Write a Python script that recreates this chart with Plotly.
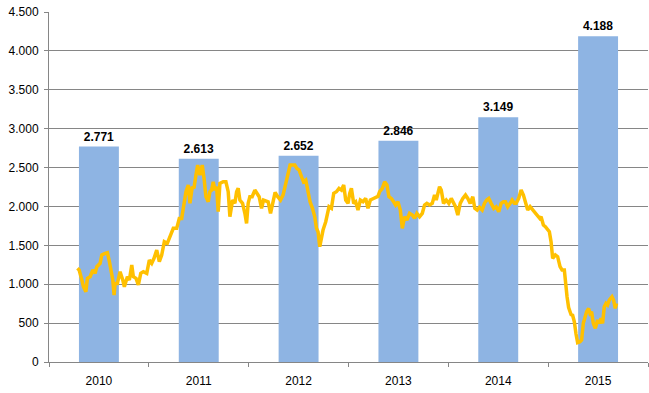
import plotly.graph_objects as go

# Bar data (yearly)
years = ["2010", "2011", "2012", "2013", "2014", "2015"]
bar_values = [2771, 2613, 2652, 2846, 3149, 4188]

# Line data (time in decimal years, value)
line_time = [
    2010.003, 2010.020, 2010.047, 2010.063, 2010.087, 2010.103, 2010.130, 2010.157, 2010.180, 2010.197,
    2010.230, 2010.247, 2010.280, 2010.303, 2010.323, 2010.337, 2010.357, 2010.370, 2010.380, 2010.403,
    2010.430, 2010.457, 2010.473, 2010.503, 2010.523, 2010.547, 2010.563, 2010.590, 2010.613, 2010.637,
    2010.663, 2010.697, 2010.723, 2010.747, 2010.770, 2010.797, 2010.823, 2010.847, 2010.873, 2010.903,
    2010.923, 2010.947, 2010.963, 2010.997, 2011.023, 2011.047, 2011.070, 2011.090, 2011.113, 2011.130,
    2011.153, 2011.170, 2011.190, 2011.207, 2011.230, 2011.253, 2011.273, 2011.290, 2011.313, 2011.330,
    2011.347, 2011.363, 2011.380, 2011.397, 2011.413, 2011.430, 2011.463, 2011.490, 2011.513, 2011.530,
    2011.557, 2011.580, 2011.597, 2011.613, 2011.630, 2011.657, 2011.680, 2011.697, 2011.713, 2011.730,
    2011.753, 2011.780, 2011.823, 2011.847, 2011.867, 2011.913, 2011.937, 2011.963, 2011.983, 2012.007,
    2012.037, 2012.063, 2012.090, 2012.113, 2012.133, 2012.156, 2012.180, 2012.200, 2012.223, 2012.247,
    2012.267, 2012.290, 2012.313, 2012.333, 2012.357, 2012.380, 2012.397, 2012.413, 2012.430, 2012.447,
    2012.463, 2012.490, 2012.503, 2012.523, 2012.547, 2012.570, 2012.597, 2012.623, 2012.647, 2012.670,
    2012.690, 2012.713, 2012.730, 2012.747, 2012.770, 2012.790, 2012.813, 2012.837, 2012.863, 2012.890,
    2012.913, 2012.937, 2012.963, 2012.990, 2013.013, 2013.030, 2013.057, 2013.080, 2013.103, 2013.123,
    2013.147, 2013.170, 2013.190, 2013.213, 2013.237, 2013.257, 2013.280, 2013.303, 2013.330, 2013.357,
    2013.380, 2013.403, 2013.430, 2013.457, 2013.480, 2013.503, 2013.530, 2013.557, 2013.580, 2013.597,
    2013.613, 2013.630, 2013.647, 2013.670, 2013.697, 2013.723, 2013.747, 2013.770, 2013.790, 2013.813,
    2013.837, 2013.863, 2013.890, 2013.913, 2013.937, 2013.963, 2013.983, 2014.007, 2014.030, 2014.057,
    2014.080, 2014.103, 2014.123, 2014.147, 2014.173, 2014.197, 2014.223, 2014.247, 2014.270, 2014.290,
    2014.313, 2014.337, 2014.357, 2014.380, 2014.397, 2014.423, 2014.447, 2014.470, 2014.490, 2014.513,
    2014.537, 2014.563, 2014.590, 2014.613, 2014.633, 2014.647, 2014.670, 2014.690, 2014.713, 2014.730,
    2014.747, 2014.763, 2014.790, 2014.813, 2014.837, 2014.857, 2014.880, 2014.897, 2014.907, 2014.923,
    2014.947, 2014.963, 2014.980, 2014.997, 2015.013, 2015.037, 2015.053, 2015.070, 2015.090, 2015.103,
    2015.123, 2015.137, 2015.153, 2015.170, 2015.190, 2015.213, 2015.230, 2015.247, 2015.263, 2015.280,
    2015.297, 2015.313, 2015.330, 2015.357, 2015.373, 2015.390, 2015.403,
]
line_values = [
    1205, 1183, 1054, 968, 904, 1076, 1097, 1183, 1140, 1226,
    1269, 1376, 1397, 1406, 1290, 1183, 1054, 861, 1011, 1011,
    1161, 1054, 968, 1097, 1054, 1247, 1097, 1076, 990, 1140,
    1161, 1140, 1311, 1269, 1333, 1440, 1290, 1376, 1547, 1526,
    1590, 1676, 1719, 1719, 1847, 1847, 2040, 2190, 2276, 2040,
    2254, 2233, 2404, 2533, 2404, 2533, 2340, 2126, 2061, 2190,
    2211, 2318, 2211, 2254, 1933, 2297, 2318, 2318, 2190, 1868,
    2083, 2040, 2190, 2233, 2083, 2040, 1912, 1783, 2040, 2126,
    2126, 2211, 2126, 1976, 2083, 2061, 1912, 2040, 2180, 2130,
    2083, 2150, 2297, 2426, 2533, 2533, 2533, 2490, 2469, 2383,
    2318, 2340, 2190, 2061, 1976, 1868, 1719, 1676, 1483, 1633,
    1697, 1804, 1890, 1997, 1976, 2169, 2190, 2233, 2211, 2276,
    2083, 2040, 2169, 2233, 2040, 2061, 1954, 2083, 2061, 2104,
    1976, 2083, 2100, 2120, 2130, 2190, 2233, 2318, 2276, 2126,
    2104, 2061, 2019, 2061, 1954, 1719, 1868, 1826, 1912, 1890,
    1847, 1912, 1868, 1912, 2019, 2040, 2019, 2040, 2147, 2083,
    2169, 2254, 2211, 2040, 2083, 2040, 2104, 2040, 1997, 1890,
    2040, 2104, 2147, 2104, 2040, 2126, 1976, 1954, 1990, 1954,
    2040, 2083, 2104, 2040, 1976, 1997, 1933, 2040, 2061, 2061,
    1997, 2040, 2083, 2040, 2040, 2104, 2211, 2147, 2040, 1954,
    1997, 1954, 1912, 1868, 1847, 1868, 1761, 1740, 1697, 1676,
    1547, 1333, 1376, 1354, 1226, 1183, 1183, 900, 840, 700,
    610, 600, 518, 360, 250, 261, 283, 497, 583, 647,
    690, 626, 647, 497, 433, 540, 497, 561, 497, 711,
    754, 733, 797, 840, 797, 690, 754,
]

y_ticks = [0, 500, 1000, 1500, 2000, 2500, 3000, 3500, 4000, 4500]

grid_col = "#868686"
font_fam = "Liberation Sans, Arial, sans-serif"

fig = go.Figure()
fig.add_trace(go.Bar(
    x=years, y=bar_values, marker=dict(color="#8EB4E3", line=dict(width=0)),
    texttemplate="<b>%{y:,.0f}</b>", textposition="outside", cliponaxis=False,
    textfont=dict(family=font_fam, size=12, color="#000000"),
    showlegend=False, hoverinfo="skip",
))
fig.add_trace(go.Scatter(
    x=line_time, y=line_values, xaxis="x2", mode="lines",
    line=dict(color="#FFC000", width=3.5), showlegend=False,
))

fig.update_layout(
    width=649, height=393,
    margin=dict(l=49, r=1, t=12, b=31),
    plot_bgcolor="white", paper_bgcolor="white",
    separators=",.",
    bargap=0.6,
    font=dict(family=font_fam, size=12, color="#000000"),
    xaxis=dict(
        type="category", tickson="boundaries", ticks="outside", ticklen=4,
        tickcolor=grid_col, showline=True, linecolor=grid_col, linewidth=1,
        showgrid=False, tickfont=dict(size=12), range=[-0.5, 5.5],
        ticklabelstandoff=8,
    ),
    xaxis2=dict(overlaying="x", range=[2009.718, 2015.718], visible=False),
    yaxis=dict(
        range=[0, 4501], tickvals=y_ticks, tickformat=",.0f",
        showgrid=True, gridcolor=grid_col, gridwidth=1,
        showline=True, linecolor=grid_col, linewidth=1,
        ticks="outside", ticklen=4, tickcolor=grid_col,
        zeroline=False, tickfont=dict(size=12), ticklabeloverflow="allow",
        ticklabelstandoff=3,
    ),
)

fig.write_html(
    "out.html",
    config={"displayModeBar": False},
    post_script="document.body.style.margin='0';document.body.style.overflow='hidden';",
)
